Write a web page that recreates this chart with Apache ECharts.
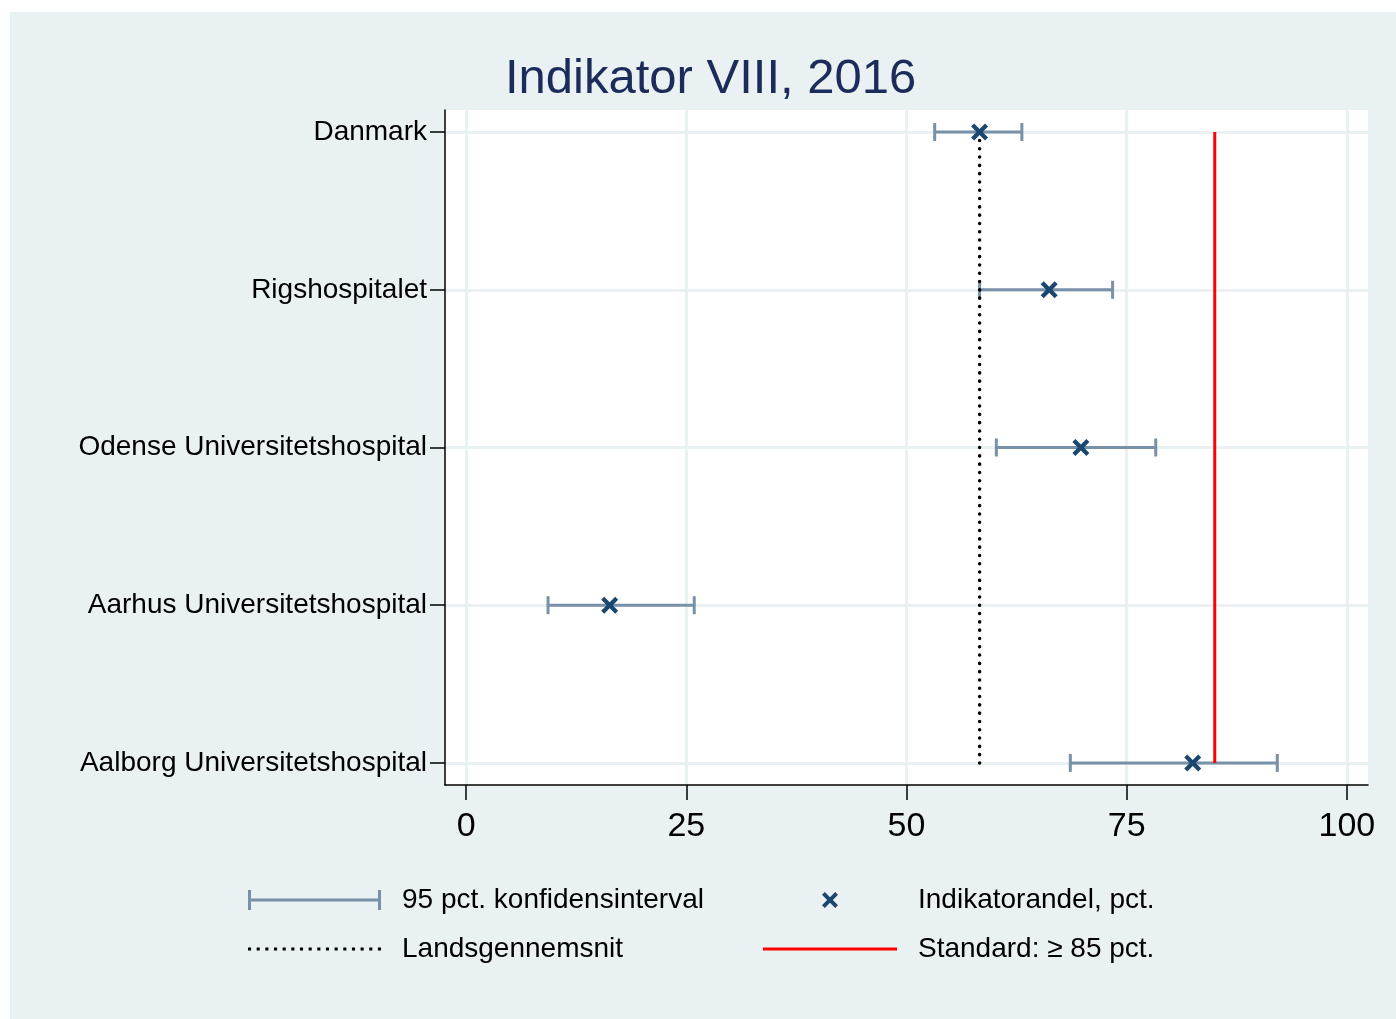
<!DOCTYPE html>
<html>
<head>
<meta charset="utf-8">
<script src="https://cdn.jsdelivr.net/npm/echarts@6/dist/echarts.min.js"></script>
<style>
html,body{margin:0;padding:0;background:#fff;}
#wrap{position:relative;width:1396px;height:1019px;background:#fff;}
#bg{position:absolute;left:10px;top:12px;right:0;bottom:0;background:#eaf1f3;}
#chart{position:absolute;left:0;top:0;width:1396px;height:1019px;}
</style>
</head>
<body>
<div id="wrap"><div id="bg"></div><div id="chart"></div></div>
<script>
// ---- data ----
const categories = ['Danmark', 'Rigshospitalet', 'Odense Universitetshospital', 'Aarhus Universitetshospital', 'Aalborg Universitetshospital'];
const estimates = [58.3, 66.2, 69.8, 16.3, 82.5];
const ciLow = [53.2, 58.3, 60.2, 9.3, 68.6];
const ciHigh = [63.1, 73.4, 78.3, 25.9, 92.1];
const nationalAverage = 58.3;
const standardValue = 85;
const xTicks = [0, 25, 50, 75, 100];
const titleText = 'Indikator VIII, 2016';
const legendNames = ['95 pct. konfidensinterval', 'Indikatorandel, pct.', 'Landsgennemsnit', 'Standard: \u2265 85 pct.'];

// ---- styles ----
const FONT = '"Liberation Sans", Arial, Helvetica, sans-serif';
const CI_COLOR = '#7890a8';
const MARK_COLOR = '#1a476f';
const GRID_COLOR = '#eaf1f3';
const yIdx = categories.map((c, i) => i);

const xPath = 'path://M0,2.5 L2.5,0 L7,4.5 L11.5,0 L14,2.5 L9.5,7 L14,11.5 L11.5,14 L7,9.5 L2.5,14 L0,11.5 L4.5,7 Z';
const ciIcon = 'path://M0,0 h3 v20 h-3 z M130,0 h3 v20 h-3 z M3,8.5 h127 v3 h-127 z';
let dots = '';
for (let i = 0; i < 16; i++) { const x = i * 8.4; dots += 'M' + x + ',0 h3 v3 h-3 z '; }
const dotIcon = 'path://' + dots;
const redIcon = 'path://M0,0 h134 v3 h-134 z';

const ciData = categories.map((c, i) => [ciLow[i], ciHigh[i], i]);
const estData = categories.map((c, i) => [estimates[i], i]);
const avgData = [[nationalAverage, 0], [nationalAverage, categories.length - 1]];
const stdData = [[standardValue, 0], [standardValue, categories.length - 1]];

const chart = echarts.init(document.getElementById('chart'), null, {renderer: 'canvas'});
chart.setOption({
  backgroundColor: 'transparent',
  animation: false,
  textStyle: {fontFamily: FONT},
  title: {
    text: titleText, left: 505, top: 55, padding: 0,
    textStyle: {fontFamily: FONT, fontSize: 49, fontWeight: 'normal', color: '#1c2c5a'}
  },
  grid: {left: 445, right: 28, top: 110, bottom: 234, show: true, backgroundColor: '#ffffff', borderWidth: 0, containLabel: false},
  xAxis: {
    type: 'value', min: -2.4, max: 102.4,
    axisLine: {show: true, onZero: false, lineStyle: {color: '#000', width: 1.5}},
    axisTick: {show: true, customValues: xTicks, length: 15, lineStyle: {color: '#000', width: 1.5}},
    axisLabel: {customValues: xTicks, fontSize: 34, color: '#000', margin: 25, fontFamily: FONT},
    splitLine: {show: true, lineStyle: {color: GRID_COLOR, width: 3}}
  },
  yAxis: {
    type: 'value', min: -0.14, max: 4.14, inverse: true,
    axisLine: {show: true, onZero: false, lineStyle: {color: '#000', width: 1.5}},
    axisTick: {show: true, customValues: yIdx, length: 15, lineStyle: {color: '#000', width: 1.5}},
    axisLabel: {customValues: yIdx, fontSize: 28, color: '#000', margin: 18, fontFamily: FONT,
      formatter: v => categories[Math.round(v)] || ''},
    splitLine: {show: true, lineStyle: {color: GRID_COLOR, width: 3}}
  },
  legend: [
    {
      left: 248, top: 886, padding: 0, orient: 'vertical', itemWidth: 133, itemHeight: 20, itemGap: 21,
      symbolKeepAspect: true, selectedMode: false,
      textStyle: {fontSize: 28, color: '#000', fontFamily: FONT, padding: [0, 0, 0, 16]},
      data: [
        {name: legendNames[0], icon: ciIcon, itemStyle: {color: CI_COLOR}},
        {name: legendNames[2], icon: dotIcon, itemStyle: {color: '#000', borderWidth: 0}, lineStyle: {width: 0}}
      ]
    },
    {
      left: 763, top: 886, padding: 0, orient: 'vertical', itemWidth: 134, itemHeight: 16, itemGap: 21,
      symbolKeepAspect: true, selectedMode: false,
      textStyle: {fontSize: 28, color: '#000', fontFamily: FONT, padding: [0, 0, 0, 16]},
      data: [
        {name: legendNames[1], icon: xPath, itemStyle: {color: MARK_COLOR, opacity: 1}},
        {name: legendNames[3], icon: redIcon, itemStyle: {color: '#ff0000', borderWidth: 0}, lineStyle: {width: 0}}
      ]
    }
  ],
  series: [
    {
      name: legendNames[0], type: 'custom', data: ciData, z: 2,
      itemStyle: {color: CI_COLOR},
      encode: {x: [0, 1], y: 2},
      renderItem: function (params, api) {
        const lo = api.coord([api.value(0), api.value(2)]);
        const hi = api.coord([api.value(1), api.value(2)]);
        const h = 9;
        const st = {stroke: CI_COLOR, lineWidth: 3};
        return {type: 'group', children: [
          {type: 'line', shape: {x1: lo[0], y1: lo[1], x2: hi[0], y2: hi[1]}, style: st},
          {type: 'line', shape: {x1: lo[0], y1: lo[1] - h, x2: lo[0], y2: lo[1] + h}, style: st},
          {type: 'line', shape: {x1: hi[0], y1: hi[1] - h, x2: hi[0], y2: hi[1] + h}, style: st}
        ]};
      }
    },
    {
      name: legendNames[2], type: 'line', data: avgData, z: 3, symbol: 'none',
      itemStyle: {color: '#000'},
      lineStyle: {color: '#000', width: 3.5, type: [0.1, 8.2], cap: 'round'}
    },
    {
      name: legendNames[3], type: 'line', data: stdData, z: 3, symbol: 'none',
      itemStyle: {color: '#ff0000'},
      lineStyle: {color: '#ff0000', width: 3}
    },
    {
      name: legendNames[1], type: 'scatter', data: estData, z: 5,
      symbol: xPath, symbolSize: 17,
      itemStyle: {color: MARK_COLOR, opacity: 1}
    }
  ]
});
</script>
</body>
</html>
